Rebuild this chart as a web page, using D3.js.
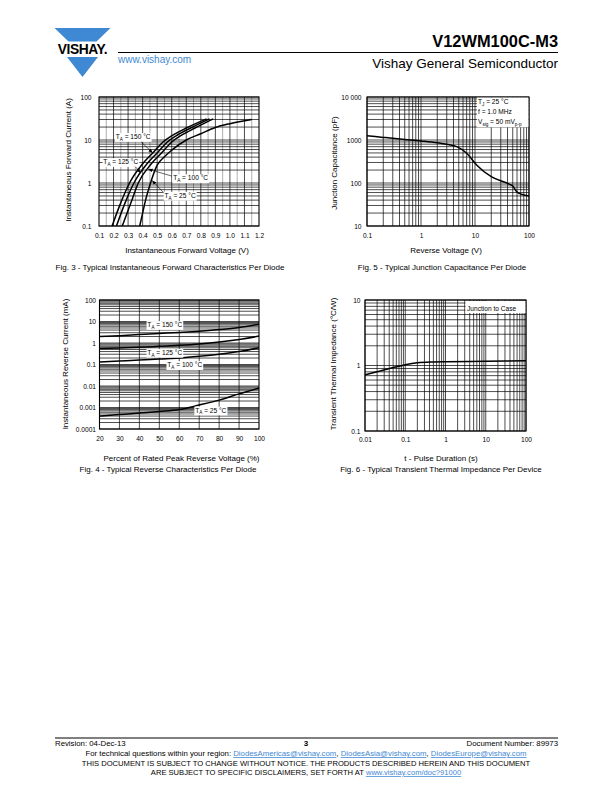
<!DOCTYPE html>
<html>
<head>
<meta charset="utf-8">
<script src="https://cdn.jsdelivr.net/npm/d3@7"></script>
<style>
body { margin: 0; background: #fff; }
svg text { font-family: "Liberation Sans", Arial, Helvetica, sans-serif; }
</style>
</head>
<body>
<script>
// Fig. 3 - forward characteristics (V, A)
var vf150 = [0.19, 0.25, 0.31, 0.40, 0.47, 0.54, 0.60, 0.70, 0.84];
var if150 = [0.1, 0.35, 1, 2.8, 5, 9, 12.5, 19, 31];
var vf125 = [0.22, 0.28, 0.34, 0.43, 0.50, 0.57, 0.63, 0.73, 0.86];
var if125 = [0.1, 0.35, 1, 2.8, 5, 9, 12.5, 19, 31];
var vf100 = [0.26, 0.32, 0.37, 0.46, 0.53, 0.60, 0.66, 0.76, 0.885];
var if100 = [0.1, 0.35, 1, 2.8, 5, 9, 12.5, 19, 31];
var vf25 = [0.38, 0.40, 0.42, 0.45, 0.50, 0.55, 0.60, 0.70, 0.80, 0.90, 1.00, 1.15];
var if25 = [0.1, 0.2, 0.4, 0.9, 2.6, 4.1, 5.8, 10, 14, 19.5, 24, 30];
var fwdTicksX = [0.1, 0.2, 0.3, 0.4, 0.5, 0.6, 0.7, 0.8, 0.9, 1.0, 1.1, 1.2];
var fwdTicksY = [0.1, 1, 10, 100];

// Fig. 4 - reverse characteristics (% VRRM, mA)
var pctRev = [20, 30, 40, 50, 60, 70, 80, 90, 100];
var ir150 = [2.0, 2.2, 2.5, 2.8, 3.1, 3.5, 4.2, 5.3, 7.5];
var ir125 = [0.55, 0.59, 0.63, 0.7, 0.78, 0.9, 1.1, 1.45, 2.1];
var ir100 = [0.13, 0.145, 0.16, 0.18, 0.2, 0.24, 0.3, 0.4, 0.6];
var ir25 = [0.0004, 0.00047, 0.00055, 0.00065, 0.0008, 0.0013, 0.0022, 0.0043, 0.008];
var revTicksX = [20, 30, 40, 50, 60, 70, 80, 90, 100];
var revTicksY = [0.0001, 0.001, 0.01, 0.1, 1, 10, 100];

// Fig. 5 - junction capacitance (V, pF)
var vrCap = [0.1, 0.2, 0.5, 1, 2, 4.6, 7, 10.7, 20, 44, 50, 59, 75, 100];
var cjCap = [1250, 1150, 1030, 950, 860, 700, 490, 263, 140, 93, 85, 63, 54, 50];
var capTicksX = [0.1, 1, 10, 100];
var capTicksY = [10, 100, 1000, 10000];

// Fig. 6 - transient thermal impedance (s, °C/W)
var tPulse = [0.01, 0.02, 0.05, 0.1, 0.2, 0.5, 1, 10, 100];
var zth = [0.72, 0.8, 0.93, 1.03, 1.1, 1.13, 1.14, 1.16, 1.18];
var thTicksX = [0.01, 0.1, 1, 10, 100];
var thTicksY = [0.1, 1, 10];

var svg = d3.select("body").append("svg")
  .attr("width", 612).attr("height", 792).style("display", "block");

svg.append("defs").append("marker")
  .attr("id", "ah").attr("viewBox", "0 0 10 10")
  .attr("refX", 10).attr("refY", 5)
  .attr("markerUnits", "userSpaceOnUse")
  .attr("markerWidth", 4.5).attr("markerHeight", 4.5)
  .attr("orient", "auto")
  .append("path").attr("d", "M0,1L10,5L0,9z").attr("fill", "#000");

var BLUE = "#3f88d3";

// ---------- header ----------
var logo = svg.append("g");
logo.append("polygon").attr("points", "54.5,28 110.5,28 96.5,41.5 68.5,41.5").attr("fill", BLUE);
logo.append("polygon").attr("points", "67,57 98,57 82.5,77").attr("fill", BLUE);
logo.append("text").attr("x", 82.5).attr("y", 54).attr("text-anchor", "middle")
  .attr("font-size", 13.8).attr("font-weight", "bold").attr("letter-spacing", -0.4)
  .text("VISHAY.");

svg.append("line").attr("x1", 118).attr("x2", 558).attr("y1", 52.5).attr("y2", 52.5)
  .attr("stroke", "#000").attr("stroke-width", 1);
svg.append("text").attr("x", 558).attr("y", 47).attr("text-anchor", "end")
  .attr("font-size", 16.4).attr("font-weight", "bold").text("V12WM100C-M3");
svg.append("text").attr("x", 558).attr("y", 68).attr("text-anchor", "end")
  .attr("font-size", 13.5).text("Vishay General Semiconductor");
svg.append("text").attr("x", 118).attr("y", 63).attr("font-size", 10)
  .attr("fill", BLUE).text("www.vishay.com");

// ---------- helpers ----------
function panel(c) {
  var g = svg.append("g");
  var x = (c.xLog ? d3.scaleLog() : d3.scaleLinear()).domain(c.xDom).range([c.l, c.r]);
  var y = d3.scaleLog().domain(c.yDom).range([c.b, c.t]);

  var minor = c.xMinor || [];
  g.selectAll(null).data(minor).enter().append("line")
    .attr("x1", x).attr("x2", x).attr("y1", c.t).attr("y2", c.b)
    .attr("stroke", "#9a9a9a").attr("stroke-width", 0.8);
  g.selectAll(null).data(c.xGrid || x.ticks()).enter().append("line")
    .attr("x1", x).attr("x2", x).attr("y1", c.t).attr("y2", c.b)
    .attr("stroke", "#000").attr("stroke-width", 0.7);
  g.selectAll(null).data(y.ticks()).enter().append("line")
    .attr("y1", y).attr("y2", y).attr("x1", c.l).attr("x2", c.r)
    .attr("stroke", "#000").attr("stroke-width", 0.7);
  g.append("rect").attr("x", c.l).attr("y", c.t)
    .attr("width", c.r - c.l).attr("height", c.b - c.t)
    .attr("fill", "none").attr("stroke", "#000").attr("stroke-width", 1.1);

  var ax = g.append("g").attr("transform", "translate(0," + c.b + ")")
    .call(d3.axisBottom(x).tickValues(c.xTicks).tickFormat(c.xFmt).tickSize(0).tickPadding(c.xPad));
  ax.select(".domain").remove();
  var ay = g.append("g").attr("transform", "translate(" + c.l + ",0)")
    .call(d3.axisLeft(y).tickValues(c.yTicks).tickFormat(c.yFmt).tickSize(0).tickPadding(c.yPad));
  ay.select(".domain").remove();
  g.selectAll(".tick text").attr("font-size", 6.6).attr("fill", "#000")
    .attr("font-family", "Liberation Sans, Arial, sans-serif");
  ax.attr("font-family", null).attr("font-size", null);
  ay.attr("font-family", null).attr("font-size", null);

  g.append("text").attr("x", c.xTitleX).attr("y", c.xTitleY)
    .attr("text-anchor", "middle").attr("font-size", 8).text(c.xTitle);
  g.append("text").attr("transform", "translate(" + c.yTitleX + "," + c.yTitleC + ") rotate(-90)")
    .attr("text-anchor", "middle").attr("font-size", 8).text(c.yTitle);
  g.append("text").attr("x", c.capX).attr("y", c.capY)
    .attr("text-anchor", "middle").attr("font-size", 8).text(c.caption);
  return { g: g, x: x, y: y };
}

function curve(p, xs, ys) {
  var pts = xs.map(function (v, i) { return [p.x(v), p.y(ys[i])]; });
  p.g.append("path").datum(pts)
    .attr("d", d3.line().curve(d3.curveMonotoneX))
    .attr("fill", "none").attr("stroke", "#000").attr("stroke-width", 1.5);
}

// label "T_A = xx °C" with white box
function tLabel(p, px, py, sub, rest, size) {
  var t = p.g.append("text").attr("x", px).attr("y", py).attr("font-size", size || 6.6);
  t.append("tspan").text("T");
  t.append("tspan").attr("font-size", (size || 6.6) * 0.7).attr("dy", 1.8).text(sub);
  t.append("tspan").attr("dy", -1.8).text(rest);
  var bb = t.node().getBBox();
  p.g.insert("rect", function () { return t.node(); })
    .attr("x", bb.x - 0.8).attr("y", bb.y).attr("width", bb.width + 1.6).attr("height", bb.height)
    .attr("fill", "#fff");
  return t;
}

function arrow(p, x1, y1, x2, y2) {
  p.g.append("line").attr("x1", x1).attr("y1", y1).attr("x2", x2).attr("y2", y2)
    .attr("stroke", "#000").attr("stroke-width", 0.6).attr("marker-end", "url(#ah)");
}

function interp(xs, ys, yv) {
  // x on a curve for a given y (log-linear)
  for (var i = 1; i < ys.length; i++) {
    if (yv <= ys[i]) {
      var f = (Math.log(yv) - Math.log(ys[i - 1])) / (Math.log(ys[i]) - Math.log(ys[i - 1]));
      return xs[i - 1] + f * (xs[i] - xs[i - 1]);
    }
  }
  return xs[xs.length - 1];
}

var fmtPlain = function (d) { return String(d); };

// ---------- Fig. 3 ----------
var p3 = panel({
  l: 99, r: 259, t: 97, b: 226,
  xLog: false, xDom: [0.1, 1.2], yDom: [0.1, 100],
  xGrid: fwdTicksX.slice(1, -1),
  xMinor: fwdTicksX.slice(0, -1).map(function (d) { return d + 0.05; }),
  xTicks: fwdTicksX, xFmt: d3.format(".1f"), xPad: 7,
  yTicks: fwdTicksY, yFmt: fmtPlain, yPad: 7.5,
  xTitle: "Instantaneous Forward Voltage (V)", xTitleX: 187, xTitleY: 253,
  yTitle: "Instantaneous Forward Current (A)", yTitleX: 70.5, yTitleC: 160,
  caption: "Fig. 3 - Typical Instantaneous Forward Characteristics Per Diode", capX: 170, capY: 269.5
});
curve(p3, vf150, if150);
curve(p3, vf125, if125);
curve(p3, vf100, if100);
curve(p3, vf25, if25);
tLabel(p3, p3.x(0.215), p3.y(10.5), "A", " = 150 °C");
arrow(p3, p3.x(0.39), p3.y(9), p3.x(interp(vf150, if150, 5)), p3.y(5));
tLabel(p3, p3.x(0.13), p3.y(2.75), "A", " = 125 °C");
arrow(p3, p3.x(0.35), p3.y(2.4), p3.x(interp(vf125, if125, 1.7)), p3.y(1.7));
tLabel(p3, p3.x(0.61), p3.y(1.15), "A", " = 100 °C");
arrow(p3, p3.x(0.6), p3.y(1.45), p3.x(interp(vf100, if100, 2.1)) + 0.5, p3.y(2.1));
tLabel(p3, p3.x(0.55), p3.y(0.45), "A", " = 25 °C");
arrow(p3, p3.x(0.54), p3.y(0.62), p3.x(interp(vf25, if25, 1.15)) + 0.5, p3.y(1.15));

// ---------- Fig. 5 ----------
var p5 = panel({
  l: 367, r: 529, t: 97, b: 226,
  xLog: true, xDom: [0.1, 100], yDom: [10, 10000],
  xTicks: capTicksX, xFmt: fmtPlain, xPad: 7,
  yTicks: capTicksY, yFmt: function (d) { return d === 10000 ? "10 000" : String(d); }, yPad: 5.5,
  xTitle: "Reverse Voltage (V)", xTitleX: 446, xTitleY: 253,
  yTitle: "Junction Capacitance (pF)", yTitleX: 337, yTitleC: 163,
  caption: "Fig. 5 - Typical Junction Capacitance Per Diode", capX: 442, capY: 270
});
curve(p5, vrCap, cjCap);
(function () {
  var lg = p5.g.append("g");
  var box = lg.append("rect").attr("fill", "#fff");
  var t1 = lg.append("text").attr("x", 478).attr("y", 104).attr("font-size", 6.6);
  t1.append("tspan").text("T");
  t1.append("tspan").attr("font-size", 4.6).attr("dy", 1.8).text("J");
  t1.append("tspan").attr("dy", -1.8).text(" = 25 °C");
  lg.append("text").attr("x", 478).attr("y", 114).attr("font-size", 6.6).text("f = 1.0 MHz");
  var t3 = lg.append("text").attr("x", 478).attr("y", 124).attr("font-size", 6.6);
  t3.append("tspan").text("V");
  t3.append("tspan").attr("font-size", 4.6).attr("dy", 1.8).text("sig");
  t3.append("tspan").attr("dy", -1.8).text(" = 50 mV");
  t3.append("tspan").attr("font-size", 4.6).attr("dy", 1.8).text("p-p");
  var bb = lg.node().getBBox();
  box.attr("x", bb.x - 1).attr("y", 97.6).attr("width", 528.4 - bb.x + 1).attr("height", bb.y + bb.height - 97.6 + 0.5);
})();

// ---------- Fig. 4 ----------
var p4 = panel({
  l: 99.5, r: 259, t: 300, b: 429,
  xLog: false, xDom: [20, 100], yDom: [0.0001, 100],
  xGrid: revTicksX.slice(1, -1),
  xTicks: revTicksX, xFmt: fmtPlain, xPad: 7.5,
  yTicks: revTicksY, yFmt: fmtPlain, yPad: 3.5,
  xTitle: "Percent of Rated Peak Reverse Voltage (%)", xTitleX: 181.5, xTitleY: 460.5,
  yTitle: "Instantaneous Reverse Current (mA)", yTitleX: 68, yTitleC: 364,
  caption: "Fig. 4 - Typical Reverse Characteristics Per Diode", capX: 168, capY: 471.5
});
curve(p4, pctRev, ir150);
curve(p4, pctRev, ir125);
curve(p4, pctRev, ir100);
curve(p4, pctRev, ir25);
tLabel(p4, p4.x(44), p4.y(5.5), "A", " = 150 °C");
tLabel(p4, p4.x(44), p4.y(0.28), "A", " = 125 °C");
tLabel(p4, p4.x(54), p4.y(0.075), "A", " = 100 °C");
tLabel(p4, p4.x(68), p4.y(0.00058), "A", " = 25 °C");

// ---------- Fig. 6 ----------
var p6 = panel({
  l: 365, r: 526, t: 300, b: 431,
  xLog: true, xDom: [0.01, 100], yDom: [0.1, 10],
  xTicks: thTicksX, xFmt: fmtPlain, xPad: 6,
  yTicks: thTicksY, yFmt: fmtPlain, yPad: 4.5,
  xTitle: "t - Pulse Duration (s)", xTitleX: 441, xTitleY: 460.5,
  yTitle: "Transient Thermal Impedance (°C/W)", yTitleX: 336, yTitleC: 364,
  caption: "Fig. 6 - Typical Transient Thermal Impedance Per Device", capX: 441, capY: 471.5
});
curve(p6, tPulse, zth);
(function () {
  var t = p6.g.append("text").attr("x", 467).attr("y", 311).attr("font-size", 6.6).text("Junction to Case");
  var bb = t.node().getBBox();
  p6.g.insert("rect", function () { return t.node(); })
    .attr("x", bb.x - 1.5).attr("y", 301).attr("width", 525.4 - bb.x + 1.5).attr("height", bb.y + bb.height - 301 + 1)
    .attr("fill", "#fff");
})();

// ---------- footer ----------
svg.append("line").attr("x1", 55).attr("x2", 558).attr("y1", 738).attr("y2", 738)
  .attr("stroke", "#000").attr("stroke-width", 1);
svg.append("text").attr("x", 55).attr("y", 745.5).attr("font-size", 7.8).text("Revision: 04-Dec-13");
svg.append("text").attr("x", 306).attr("y", 745.5).attr("font-size", 8).attr("font-weight", "bold")
  .attr("text-anchor", "middle").text("3");
svg.append("text").attr("x", 558).attr("y", 745.5).attr("font-size", 7.8)
  .attr("text-anchor", "end").text("Document Number: 89973");

var f2 = svg.append("text").attr("x", 306).attr("y", 756).attr("font-size", 7.8).attr("text-anchor", "middle");
f2.append("tspan").text("For technical questions within your region: ");
f2.append("tspan").attr("fill", BLUE).attr("text-decoration", "underline").text("DiodesAmericas@vishay.com");
f2.append("tspan").text(", ");
f2.append("tspan").attr("fill", BLUE).attr("text-decoration", "underline").text("DiodesAsia@vishay.com");
f2.append("tspan").text(", ");
f2.append("tspan").attr("fill", BLUE).attr("text-decoration", "underline").text("DiodesEurope@vishay.com");

svg.append("text").attr("x", 306).attr("y", 766).attr("font-size", 7.6).attr("text-anchor", "middle")
  .text("THIS DOCUMENT IS SUBJECT TO CHANGE WITHOUT NOTICE. THE PRODUCTS DESCRIBED HEREIN AND THIS DOCUMENT");
var f4 = svg.append("text").attr("x", 306).attr("y", 775).attr("font-size", 7.6).attr("text-anchor", "middle");
f4.append("tspan").text("ARE SUBJECT TO SPECIFIC DISCLAIMERS, SET FORTH AT ");
f4.append("tspan").attr("fill", BLUE).attr("text-decoration", "underline").text("www.vishay.com/doc?91000");
</script>
</body>
</html>
